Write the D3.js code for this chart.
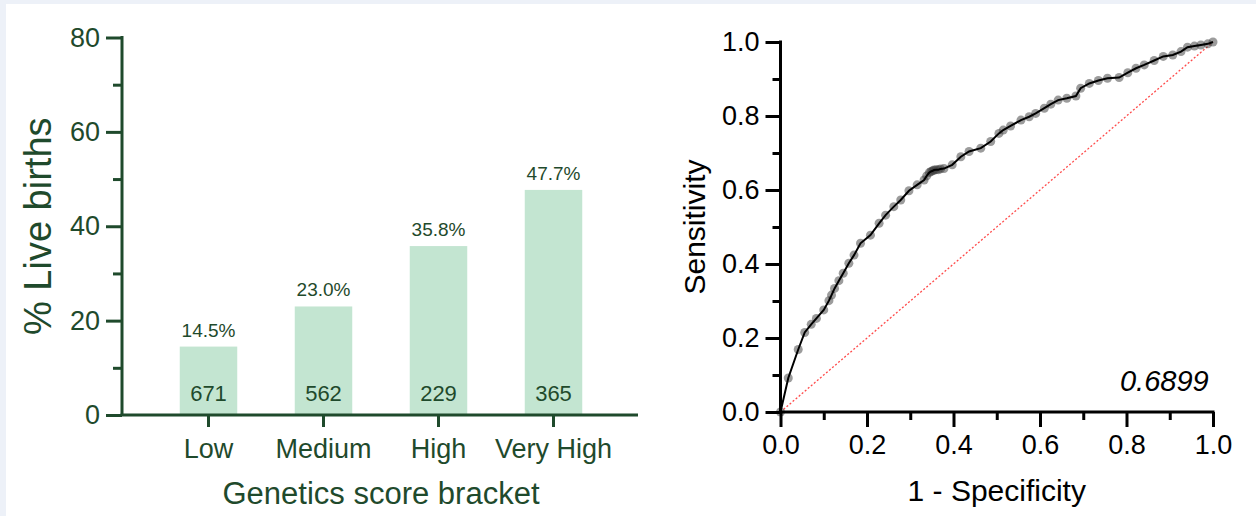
<!DOCTYPE html>
<html>
<head>
<meta charset="utf-8">
<script src="https://cdn.jsdelivr.net/npm/d3@7"></script>
<style>
  body { margin: 0; background: #edf1f8; }
  svg { display: block; font-family: "Liberation Sans", Arial, sans-serif; }
</style>
</head>
<body>
<div id="chart"></div>
<script>
// bar chart data
const categories = ["Low", "Medium", "High", "Very High"];
const liveBirthPct = [14.5, 23.0, 35.8, 47.7];
const counts = [671, 562, 229, 365];
const barTicks = [0, 20, 40, 60, 80];

// ROC curve points (fpr, tpr)
const rocFpr = [0, 0.018, 0.041, 0.056, 0.071, 0.083, 0.100, 0.112, 0.118, 0.125, 0.135,
  0.145, 0.158, 0.170, 0.185, 0.208, 0.228, 0.243, 0.262, 0.278, 0.297, 0.316, 0.332,
  0.338, 0.344, 0.348, 0.352, 0.355, 0.360, 0.365, 0.370, 0.378, 0.397, 0.417, 0.436,
  0.463, 0.486, 0.505, 0.515, 0.532, 0.556, 0.575, 0.590, 0.610, 0.625, 0.642, 0.662,
  0.683, 0.694, 0.714, 0.735, 0.756, 0.783, 0.803, 0.822, 0.841, 0.864, 0.885, 0.907,
  0.926, 0.941, 0.957, 0.972, 0.988, 1.0];
const rocTpr = [0, 0.092, 0.169, 0.215, 0.237, 0.253, 0.276, 0.301, 0.316, 0.334, 0.355,
  0.375, 0.402, 0.424, 0.456, 0.478, 0.510, 0.532, 0.555, 0.573, 0.598, 0.614, 0.627,
  0.638, 0.647, 0.650, 0.652, 0.654, 0.655, 0.655, 0.657, 0.658, 0.668, 0.690, 0.704,
  0.713, 0.731, 0.753, 0.762, 0.773, 0.789, 0.798, 0.807, 0.821, 0.832, 0.843, 0.848,
  0.854, 0.875, 0.888, 0.896, 0.902, 0.904, 0.917, 0.929, 0.938, 0.950, 0.961, 0.965,
  0.974, 0.986, 0.989, 0.992, 0.995, 1.0];
const rocTicks = [0, 0.2, 0.4, 0.6, 0.8, 1.0];
const aucLabel = "0.6899";

const width = 1256, height = 516;
const green = "#1f4a2c";

const svg = d3.select("#chart").append("svg")
  .attr("width", width)
  .attr("height", height);

svg.append("rect")
  .attr("x", 6).attr("y", 4)
  .attr("width", width - 6).attr("height", height - 4)
  .attr("fill", "#ffffff");

// ---------- left: bar chart ----------
const yBar = d3.scaleLinear().domain([0, 80]).range([415, 37.5]);
const xBar = d3.scaleBand()
  .domain(categories)
  .range([151, 611])
  .paddingInner(0.5)
  .paddingOuter(0.25);
const barAxisX = 122;

const left = svg.append("g");

left.selectAll("rect.bar")
  .data(categories)
  .enter().append("rect")
  .attr("class", "bar")
  .attr("x", d => xBar(d))
  .attr("width", xBar.bandwidth())
  .attr("y", (d, i) => yBar(liveBirthPct[i]))
  .attr("height", (d, i) => yBar(0) - yBar(liveBirthPct[i]))
  .attr("fill", "#c3e5d1");

left.selectAll("text.pct")
  .data(categories)
  .enter().append("text")
  .attr("class", "pct")
  .attr("x", d => xBar(d) + xBar.bandwidth() / 2)
  .attr("y", (d, i) => yBar(liveBirthPct[i]) - 10)
  .attr("text-anchor", "middle")
  .style("font-size", "19px")
  .style("fill", green)
  .text((d, i) => liveBirthPct[i].toFixed(1) + "%");

left.selectAll("text.count")
  .data(categories)
  .enter().append("text")
  .attr("class", "count")
  .attr("x", d => xBar(d) + xBar.bandwidth() / 2)
  .attr("y", yBar(0) - 14)
  .attr("text-anchor", "middle")
  .style("font-size", "22px")
  .style("fill", green)
  .text((d, i) => counts[i]);

const yAxisL = left.append("g")
  .attr("transform", `translate(${barAxisX},0)`)
  .call(d3.axisLeft(yBar).tickValues(barTicks).tickSize(16).tickPadding(6).tickFormat(d3.format("d")));
yAxisL.select(".domain").remove();
yAxisL.selectAll(".tick line").attr("stroke", green).attr("stroke-width", 3);
yAxisL.selectAll(".tick text").style("font-size", "27px").style("fill", green).attr("font-family", null);

left.append("g")
  .attr("transform", `translate(${barAxisX},0)`)
  .call(d3.axisLeft(yBar).tickValues([10, 30, 50, 70]).tickSize(9).tickFormat(""))
  .call(g => g.select(".domain").remove())
  .selectAll(".tick line").attr("stroke", green).attr("stroke-width", 3);

left.append("line")
  .attr("x1", barAxisX).attr("x2", barAxisX)
  .attr("y1", yBar(80) - 1.5).attr("y2", yBar(0))
  .attr("stroke", green).attr("stroke-width", 3);

const xAxisL = left.append("g")
  .attr("transform", `translate(0,${yBar(0)})`)
  .call(d3.axisBottom(xBar).tickSize(12).tickPadding(12));
xAxisL.select(".domain").remove();
xAxisL.selectAll(".tick line").attr("stroke", green).attr("stroke-width", 3);
xAxisL.selectAll(".tick text").style("font-size", "27px").style("fill", green).attr("font-family", null);

left.append("line")
  .attr("x1", barAxisX - 1.5).attr("x2", 638)
  .attr("y1", yBar(0)).attr("y2", yBar(0))
  .attr("stroke", green).attr("stroke-width", 3);

left.append("text")
  .attr("x", (151 + 611) / 2)
  .attr("y", 504)
  .attr("text-anchor", "middle")
  .style("font-size", "31px")
  .style("fill", green)
  .text("Genetics score bracket");

left.append("text")
  .attr("transform", `translate(51,${(yBar(0) + yBar(80)) / 2}) rotate(-90)`)
  .attr("text-anchor", "middle")
  .style("font-size", "38px")
  .style("fill", green)
  .text("% Live births");

// ---------- right: ROC curve ----------
const xRoc = d3.scaleLinear().domain([0, 1]).range([780.5, 1213]);
const yRoc = d3.scaleLinear().domain([0, 1]).range([412, 42]);
const right = svg.append("g");

right.append("line")
  .attr("x1", xRoc(0)).attr("y1", yRoc(0))
  .attr("x2", xRoc(1)).attr("y2", yRoc(1))
  .attr("stroke", "#ff4a4a")
  .attr("stroke-width", 1.3)
  .attr("stroke-dasharray", "2,2");

const rocPoints = rocFpr.map((f, i) => [f, rocTpr[i]]);

right.selectAll("circle.pt")
  .data(rocPoints)
  .enter().append("circle")
  .attr("class", "pt")
  .attr("cx", d => xRoc(d[0]))
  .attr("cy", d => yRoc(d[1]))
  .attr("r", 4.5)
  .attr("fill", "#3a3a3a")
  .attr("fill-opacity", 0.5);

right.append("path")
  .datum(rocPoints)
  .attr("d", d3.line().x(d => xRoc(d[0])).y(d => yRoc(d[1])))
  .attr("fill", "none")
  .attr("stroke", "#000")
  .attr("stroke-width", 2);

const yAxisR = right.append("g")
  .attr("transform", `translate(${xRoc(0)},0)`)
  .call(d3.axisLeft(yRoc).tickValues(rocTicks).tickSize(15).tickPadding(6).tickFormat(d3.format(".1f")));
yAxisR.select(".domain").remove();
yAxisR.selectAll(".tick line").attr("stroke", "#000").attr("stroke-width", 3);
yAxisR.selectAll(".tick text").style("font-size", "27px").style("fill", "#000").attr("font-family", null);

right.append("g")
  .attr("transform", `translate(${xRoc(0)},0)`)
  .call(d3.axisLeft(yRoc).tickValues([0.1, 0.3, 0.5, 0.7, 0.9]).tickSize(8).tickFormat(""))
  .call(g => g.select(".domain").remove())
  .selectAll(".tick line").attr("stroke", "#000").attr("stroke-width", 3);

const xAxisR = right.append("g")
  .attr("transform", `translate(0,${yRoc(0)})`)
  .call(d3.axisBottom(xRoc).tickValues(rocTicks).tickSize(15).tickPadding(8).tickFormat(d3.format(".1f")));
xAxisR.select(".domain").remove();
xAxisR.selectAll(".tick line").attr("stroke", "#000").attr("stroke-width", 3);
xAxisR.selectAll(".tick text").style("font-size", "27px").style("fill", "#000").attr("font-family", null);

right.append("g")
  .attr("transform", `translate(0,${yRoc(0)})`)
  .call(d3.axisBottom(xRoc).tickValues([0.1, 0.3, 0.5, 0.7, 0.9]).tickSize(8).tickFormat(""))
  .call(g => g.select(".domain").remove())
  .selectAll(".tick line").attr("stroke", "#000").attr("stroke-width", 3);

right.append("line")
  .attr("x1", xRoc(0)).attr("x2", xRoc(0))
  .attr("y1", yRoc(1) - 1.5).attr("y2", yRoc(0) + 1.5)
  .attr("stroke", "#000").attr("stroke-width", 3);
right.append("line")
  .attr("x1", xRoc(0) - 1.5).attr("x2", xRoc(1) + 1.5)
  .attr("y1", yRoc(0)).attr("y2", yRoc(0))
  .attr("stroke", "#000").attr("stroke-width", 3);

right.append("text")
  .attr("x", xRoc(0.99))
  .attr("y", 391)
  .attr("text-anchor", "end")
  .style("font-size", "29px")
  .style("font-style", "italic")
  .text(aucLabel);

right.append("text")
  .attr("x", (xRoc(0) + xRoc(1)) / 2)
  .attr("y", 501)
  .attr("text-anchor", "middle")
  .style("font-size", "30px")
  .text("1 - Specificity");

right.append("text")
  .attr("transform", `translate(705,${(yRoc(0) + yRoc(1)) / 2}) rotate(-90)`)
  .attr("text-anchor", "middle")
  .style("font-size", "30px")
  .text("Sensitivity");
</script>
</body>
</html>
